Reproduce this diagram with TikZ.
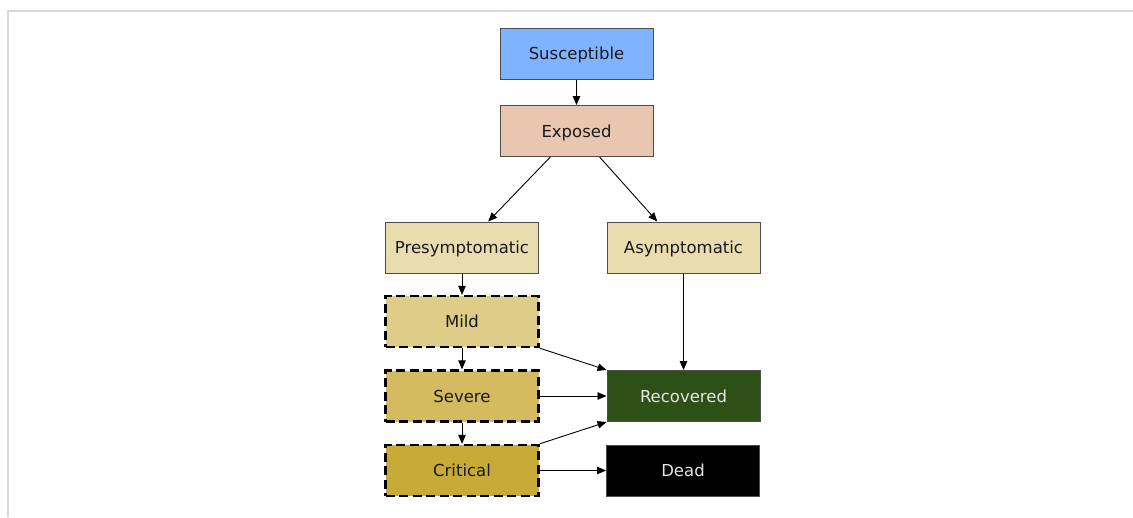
\documentclass[tikz,border=0pt]{standalone}
\usepackage{fontspec}
\setmainfont{DejaVu Sans}
\usetikzlibrary{arrows.meta,calc}
\definecolor{frameline}{HTML}{D9D9D9}
\definecolor{boxline}{HTML}{4D4D4D}
\definecolor{cSus}{HTML}{80B3FF}
\definecolor{cExp}{HTML}{E9C6AF}
\definecolor{cInc}{HTML}{E9DDAF}
\definecolor{cMild}{HTML}{DECD87}
\definecolor{cSev}{HTML}{D4BB5F}
\definecolor{cCrit}{HTML}{C8AB37}
\definecolor{cRec}{HTML}{2D5016}
\definecolor{darktext}{HTML}{1A1A1A}
\definecolor{lighttext}{HTML}{E6E6E6}
\begin{document}
\begin{tikzpicture}[x=1pt,y=-1pt,
  state/.style={draw=boxline,line width=1pt,minimum width=153pt,minimum height=51pt,
    inner sep=0pt,text height=12pt,text depth=0pt,
    font=\fontsize{16.5}{18}\selectfont,text=darktext},
  hidden/.style={state,draw=black,line width=2.3pt,dash pattern=on 9pt off 4.5pt},
  flow/.style={-{Triangle[length=9pt,width=7.5pt]},line width=0.9pt,black}]
  \useasboundingbox (0,0) rectangle (1133,517);
  % frame of the panel
  \draw[frameline,line width=2pt] (8,517) -- (8,11) -- (1133,11);
  % compartments
  \node[state,fill=cSus] (sus) at (576.5,53.5) {Susceptible};
  \node[state,fill=cExp] (exp) at (576.5,131) {Exposed};
  \node[state,fill=cInc] (pre) at (462,247.5) {Presymptomatic};
  \node[state,fill=cInc] (asy) at (683.5,247.5) {Asymptomatic};
  \node[hidden,fill=cMild] (mild) at (462,321.5) {Mild};
  \node[hidden,fill=cSev] (sev) at (462,396) {Severe};
  \node[hidden,fill=cCrit] (crit) at (462,470.5) {Critical};
  \node[state,fill=cRec,text=lighttext] (rec) at (683.5,396) {Recovered};
  \node[state,fill=black,text=lighttext] (dead) at (683,470.5) {Dead};
  % transitions
  \draw[flow] (sus) -- (exp);
  \draw[flow] ($(exp.south west)!0.33!(exp.south east)$) -- ($(pre.north west)!0.67!(pre.north east)$);
  \draw[flow] ($(exp.south west)!0.65!(exp.south east)$) -- ($(asy.north west)!0.33!(asy.north east)$);
  \draw[flow] (pre) -- (mild);
  \draw[flow] (mild) -- (sev);
  \draw[flow] (sev) -- (crit);
  \draw[flow] (asy) -- (rec);
  \draw[flow] (mild.south east) -- (rec.north west);
  \draw[flow] (sev) -- (rec);
  \draw[flow] (crit.north east) -- (rec.south west);
  \draw[flow] (crit) -- (dead);
\end{tikzpicture}
\end{document}
